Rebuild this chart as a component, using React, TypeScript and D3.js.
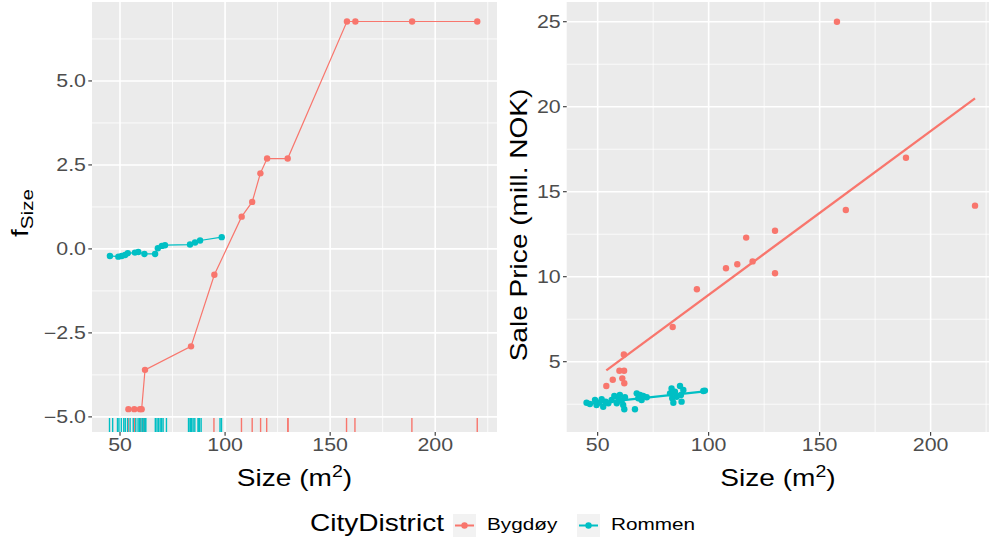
import React from "react"
import * as d3 from "d3"

const RED = "#F8766D"
const TEAL = "#00BFC4"
const FONT = "Liberation Sans, Arial, sans-serif"

// accumulated local effect of Size (left panel)
const bygdoyAleSize = [54, 56.8, 59.5, 60.3, 61.9, 83.8, 94.9, 107.9, 112.9, 116.8, 120, 129.8, 158, 162, 189, 220]
const bygdoyAle = [-4.77, -4.77, -4.77, -4.77, -3.6, -2.9, -0.77, 0.96, 1.4, 2.25, 2.69, 2.69, 6.77, 6.77, 6.77, 6.77]
const rommenAleSize = [45.2, 49.2, 50.8, 52.4, 53.7, 57.1, 58.7, 61.6, 66.7, 68, 69.9, 71.4, 83.3, 85.7, 88.1, 98.4]
const rommenAle = [-0.21, -0.23, -0.21, -0.18, -0.13, -0.11, -0.09, -0.15, -0.15, 0.02, 0.09, 0.11, 0.13, 0.19, 0.25, 0.35]

// observed sales (right panel)
const bygdoySize = [53.9, 56.8, 59.8, 61.9, 61.1, 62, 61.8, 83.8, 94.7, 107.8, 112.9, 116.9, 119.8, 129.9, 129.9, 157.8, 161.8, 188.9, 220]
const bygdoyPrice = [3.57, 3.94, 4.47, 4.47, 4.02, 3.73, 5.43, 7.04, 9.26, 10.5, 10.73, 12.3, 10.9, 12.7, 10.2, 25, 13.92, 17, 14.18]
const rommenSize = [45, 46.5, 48.8, 49.5, 50.6, 51.8, 52.5, 53.6, 54.8, 56.3, 57.5, 58.6, 59.3, 60, 60.8, 61.5, 62, 62.3, 66.8, 67.6, 68.3, 69.1, 69.8, 70.5, 72.1, 82.6, 83.3, 83.6, 84.1, 84.8, 85.6, 87.1, 87.5, 87.8, 88.6, 97.6, 98.3]
const rommenPrice = [2.59, 2.51, 2.75, 2.45, 2.59, 2.79, 2.35, 2.65, 2.55, 2.75, 2.98, 2.55, 2.85, 3.04, 2.71, 2.45, 2.2, 2.91, 2.2, 3.14, 2.85, 3.04, 2.75, 2.98, 2.91, 3.14, 3.43, 2.85, 2.59, 3.24, 2.94, 3.57, 3.04, 2.65, 3.34, 3.28, 3.3]

const xTicks = [50, 100, 150, 200]
const aleTicks = [-5, -2.5, 0, 2.5, 5]
const priceTicks = [5, 10, 15, 20, 25]

const SX = 1.22 // reference glyphs are wider than Liberation Sans

const Txt = ({ x, y, rotate = 0, anchor = "middle", size, fill = "#000", children }: any) => (
  <g transform={`translate(${x},${y}) rotate(${rotate}) scale(${SX},1)`}>
    <text textAnchor={anchor} fontSize={size} fill={fill} fontFamily={FONT}>
      {children}
    </text>
  </g>
)

const minorOf = (ticks: number[], domain: number[]) => {
  const step = ticks[1] - ticks[0]
  return [ticks[0] - step / 2, ...ticks.map((t) => t + step / 2)].filter(
    (m) => m >= domain[0] && m <= domain[1]
  )
}

const fit = (xs: number[], ys: number[]) => {
  const mx = d3.mean(xs) as number
  const my = d3.mean(ys) as number
  const b = d3.sum(xs, (x, i) => (x - mx) * (ys[i] - my)) / d3.sum(xs, (x) => (x - mx) ** 2)
  return (x: number) => my + b * (x - mx)
}

function Panel({ x, y, xTickVals, yTickVals, yFmt }: any) {
  const [l, r] = x.range()
  const [b, t] = y.range()
  const xMinor = minorOf(xTickVals, x.domain())
  const yMinor = minorOf(yTickVals, y.domain())
  return (
    <g>
      <rect x={l} y={t} width={r - l} height={b - t} fill="#EBEBEB" />
      {xMinor.map((v) => (
        <line key={"xm" + v} x1={x(v)} x2={x(v)} y1={t} y2={b} stroke="#fff" strokeWidth={0.8} />
      ))}
      {yMinor.map((v) => (
        <line key={"ym" + v} x1={l} x2={r} y1={y(v)} y2={y(v)} stroke="#fff" strokeWidth={0.8} />
      ))}
      {xTickVals.map((v: number) => (
        <g key={"x" + v}>
          <line x1={x(v)} x2={x(v)} y1={t} y2={b} stroke="#fff" strokeWidth={1.6} />
          <line x1={x(v)} x2={x(v)} y1={b} y2={b + 3.7} stroke="#333" strokeWidth={1.1} />
          <Txt x={x(v)} y={b + 19} size={17.5} fill="#4D4D4D">
            {v}
          </Txt>
        </g>
      ))}
      {yTickVals.map((v: number) => (
        <g key={"y" + v}>
          <line x1={l} x2={r} y1={y(v)} y2={y(v)} stroke="#fff" strokeWidth={1.6} />
          <line x1={l - 3.7} x2={l} y1={y(v)} y2={y(v)} stroke="#333" strokeWidth={1.1} />
          <Txt x={l - 6} y={y(v) + 6.3} anchor="end" size={17.5} fill="#4D4D4D">
            {yFmt(v)}
          </Txt>
        </g>
      ))}
    </g>
  )
}

export default function App() {
  const top = 2
  const bottom = 432

  const xL = d3.scaleLinear().domain([36.67, 229.4]).range([92, 497])
  const yL = d3.scaleLinear().domain([-5.45, 7.35]).range([bottom, top])
  const xR = d3.scaleLinear().domain([36.05, 226.3]).range([566.7, 989])
  const yR = d3.scaleLinear().domain([0.865, 26.16]).range([bottom, top])

  const aleLine = (xs: number[], ys: number[]) =>
    d3
      .line<number>()
      .x((d) => xL(xs[d]))
      .y((d) => yL(ys[d]))(d3.range(xs.length)) as string

  const rugLen = 14
  const groups = [
    { name: "Bygdøy", color: RED, aleX: bygdoyAleSize, aleY: bygdoyAle, xs: bygdoySize, ys: bygdoyPrice },
    { name: "Rommen", color: TEAL, aleX: rommenAleSize, aleY: rommenAle, xs: rommenSize, ys: rommenPrice },
  ]

  return (
    <div style={{ position: "absolute", left: 0, top: 0 }}>
      <svg width={992} height={539} style={{ display: "block", background: "#fff" }}>
        {/* left panel: ALE of size */}
        <Panel x={xL} y={yL} xTickVals={xTicks} yTickVals={aleTicks} yFmt={d3.format(".1f")} />
        {groups.map((g) => (
          <path key={"l" + g.name} d={aleLine(g.aleX, g.aleY)} fill="none" stroke={g.color} strokeWidth={1.2} />
        ))}
        {groups.map((g) =>
          g.aleX.map((v, i) => <circle key={g.name + "p" + i} cx={xL(v)} cy={yL(g.aleY[i])} r={3.2} fill={g.color} />)
        )}
        {groups.map((g) =>
          g.xs.map((v, i) => (
            <line
              key={g.name + "r" + i}
              x1={xL(v)}
              x2={xL(v)}
              y1={bottom}
              y2={bottom - rugLen}
              stroke={g.color}
              strokeWidth={1.4}
            />
          ))
        )}
        <g transform={`translate(28,213) rotate(-90) scale(${SX},1)`}>
          <text textAnchor="middle" fontSize={23} fontFamily={FONT}>
            f
            <tspan fontSize={17} dy={5}>
              Size
            </tspan>
          </text>
        </g>
        <g transform={`translate(294.5,486) scale(${SX},1)`}>
          <text textAnchor="middle" fontSize={23} fontFamily={FONT}>
            Size (m
            <tspan fontSize={16} dy={-9}>
              2
            </tspan>
            <tspan dy={9}>)</tspan>
          </text>
        </g>

        {/* right panel: sale price vs size */}
        <Panel x={xR} y={yR} xTickVals={xTicks} yTickVals={priceTicks} yFmt={(v: number) => String(v)} />
        {groups.map((g) =>
          g.xs.map((v, i) => <circle key={g.name + "s" + i} cx={xR(v)} cy={yR(g.ys[i])} r={3.2} fill={g.color} />)
        )}
        {groups.map((g) => {
          const f = fit(g.xs, g.ys)
          const [a, b] = d3.extent(g.xs) as [number, number]
          return (
            <line
              key={"fit" + g.name}
              x1={xR(a)}
              x2={xR(b)}
              y1={yR(f(a))}
              y2={yR(f(b))}
              stroke={g.color}
              strokeWidth={2.3}
            />
          )
        })}
        <Txt x={527} y={225} rotate={-90} size={23}>
          Sale Price (mill. NOK)
        </Txt>
        <g transform={`translate(778,486) scale(${SX},1)`}>
          <text textAnchor="middle" fontSize={23} fontFamily={FONT}>
            Size (m
            <tspan fontSize={16} dy={-9}>
              2
            </tspan>
            <tspan dy={9}>)</tspan>
          </text>
        </g>

        {/* legend */}
        <Txt x={310} y={531} anchor="start" size={23}>
          CityDistrict
        </Txt>
        {groups.map((g, i) => {
          const kx = 453 + i * 124
          return (
            <g key={"leg" + g.name}>
              <rect x={kx} y={514} width={23} height={23} fill="#F2F2F2" />
              <line x1={kx + 2} x2={kx + 21} y1={525.5} y2={525.5} stroke={g.color} strokeWidth={2} />
              <circle cx={kx + 11.5} cy={525.5} r={3.2} fill={g.color} />
              <Txt x={kx + 34} y={530} anchor="start" size={17}>
                {g.name}
              </Txt>
            </g>
          )
        })}
      </svg>
    </div>
  )
}
